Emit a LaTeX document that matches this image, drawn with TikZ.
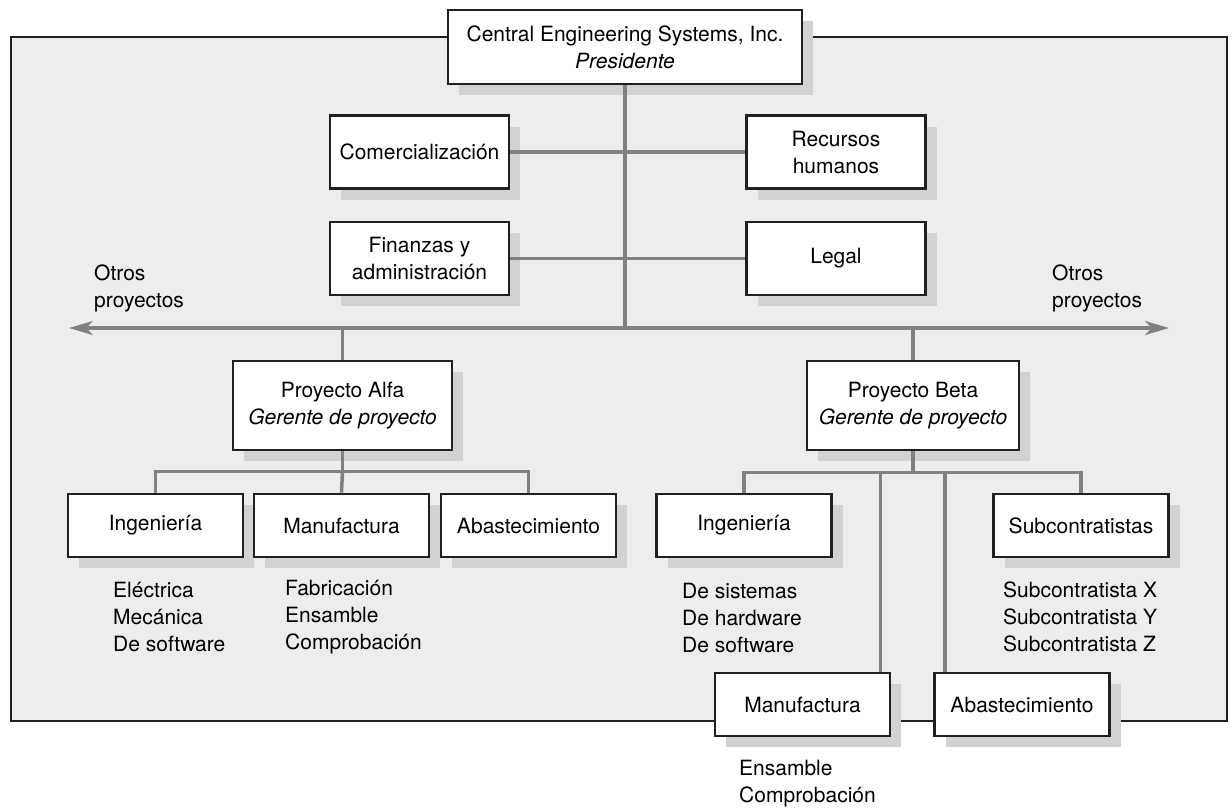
\documentclass[tikz,border=0pt]{standalone}
\usepackage{fontspec}
\setmainfont{TeX Gyre Heros}
\usetikzlibrary{arrows.meta,shadows}
\definecolor{framegray}{RGB}{237,237,237}
\definecolor{inkdark}{RGB}{35,31,32}
\definecolor{linkgray}{RGB}{128,129,132}
\definecolor{shadegray}{RGB}{209,210,212}
\begin{document}
\begin{tikzpicture}[x=1pt,y=-1pt,
        font=\fontsize{21}{27}\selectfont,
        >={Stealth[length=24pt,width=14pt,inset=7pt]},
        box/.style={draw=inkdark,line width=2.8pt,fill=white,align=center,inner sep=2pt,
            drop shadow={shadow xshift=11pt,shadow yshift=-11pt,fill=shadegray,opacity=1}},
        staff/.style={box,minimum width=179pt,minimum height=73pt},
        proj/.style={box,minimum height=89pt},
        unit/.style={box,minimum width=175pt,minimum height=63pt},
        link/.style={draw=linkgray,line width=3.5pt},
        txt/.style={align=left,inner sep=0pt,anchor=west}]
    \useasboundingbox (0,0) rectangle (1232,807);
    \draw[draw=inkdark,fill=framegray,line width=2.5pt] (11,37) rectangle (1227,721);
    % top of the chart
    \node[box,minimum width=354pt,minimum height=74pt] (pres) at (625,47)
        {Central Engineering Systems, Inc.\\\textit{Presidente}};
    \node[staff] (com) at (419.5,152) {Comercializaci\'on};
    \node[staff] (rrhh) at (836,152) {Recursos\\humanos};
    \node[staff] (fin) at (419.5,258.5) {Finanzas y\\administraci\'on};
    \node[staff] (legal) at (836,258.5) {Legal};
    \coordinate (oleft) at (69,328);
    \coordinate (oright) at (1169,328);
    \node[txt] (otrosizq) at (94,288.5) {Otros\\proyectos};
    \node[txt] (otrosder) at (1052,288.5) {Otros\\proyectos};
    % projects
    \node[proj,minimum width=219pt] (alfa) at (342.5,405.5)
        {Proyecto Alfa\\\textit{Gerente de proyecto}};
    \node[proj,minimum width=212pt] (beta) at (913,405.5)
        {Proyecto Beta\\\textit{Gerente de proyecto}};
    \node[unit] (aing) at (155.5,525.5) {Ingenier\'ia};
    \node[unit] (aman) at (341.5,525.5) {Manufactura};
    \node[unit] (aaba) at (528.5,525.5) {Abastecimiento};
    \node[unit] (bing) at (744,525.5) {Ingenier\'ia};
    \node[unit] (bsub) at (1081,525.5) {Subcontratistas};
    \node[unit] (bman) at (802.5,704.5) {Manufactura};
    \node[unit] (baba) at (1022,704.5) {Abastecimiento};
    \node[txt] (aingl) at (113,617) {El\'ectrica\\Mec\'anica\\De software};
    \node[txt] (amanl) at (285,617) {Fabricaci\'on\\Ensamble\\Comprobaci\'on};
    \node[txt] (bingl) at (682,618) {De sistemas\\De hardware\\De software};
    \node[txt] (bsubl) at (1003,617) {Subcontratista X\\Subcontratista Y\\Subcontratista Z};
    \node[txt] (bmanl) at (739,784) {Ensamble\\Comprobaci\'on};
    % connectors
    \draw[link] (pres.south) -- (pres.south |- oleft);
    \draw[link] (com) -- (rrhh);
    \draw[link] (fin) -- (legal);
    \draw[link,<->] (oleft) -- (oright);
    \draw[link] (alfa.north |- oleft) -- (alfa.north);
    \draw[link] (beta.north |- oleft) -- (beta.north);
    \draw[link] (alfa.south) -- ++(0,20) coordinate (aj);
    \draw[link] (aing.north) |- (aj) -| (aaba.north);
    \draw[link] (aj) -- (aman.north);
    \draw[link] (beta.south) -- ++(0,21) coordinate (bj);
    \draw[link] (bing.north) |- (bj) -| (bsub.north);
    \draw[link] ([xshift=-11pt]bman.north east) |- (bj);
    \draw[link] ([xshift=12pt]baba.north west) |- (bj);
\end{tikzpicture}
\end{document}
